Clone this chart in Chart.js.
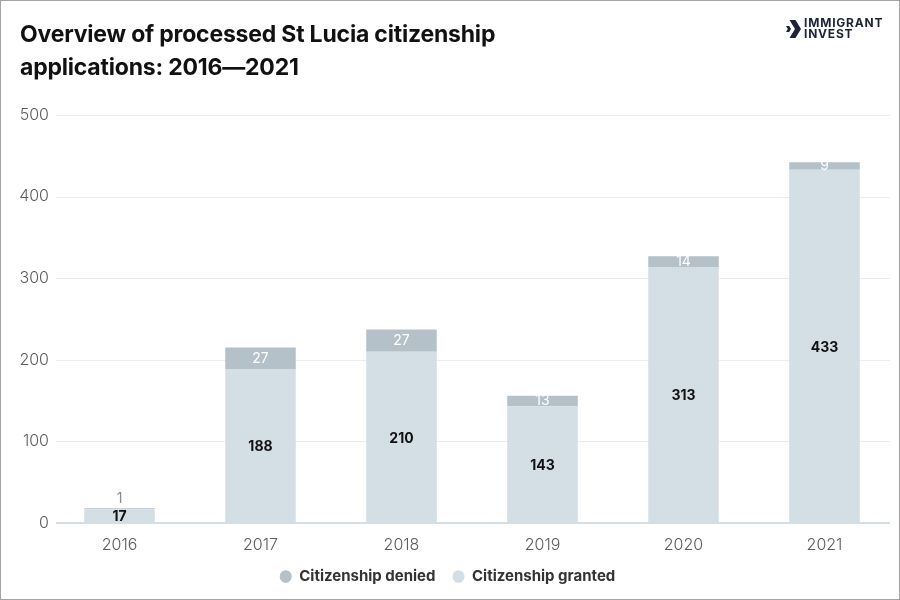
<!DOCTYPE html>
<html>
<head>
<meta charset="utf-8">
<script src="https://cdn.jsdelivr.net/npm/chart.js@4.4.1/dist/chart.umd.min.js"></script>
<style>
  html, body { margin: 0; padding: 0; background: #fff; }
  #wrap { position: relative; width: 900px; height: 600px; }
  #frame { position: absolute; left: 0; top: 0; width: 900px; height: 600px; box-sizing: border-box; border: 1px solid #a3a3a3; pointer-events: none; }
  #title { position: absolute; left: 20px; top: 18px; font: 700 23px Inter, sans-serif; line-height: 33px; color: #111; letter-spacing: -0.2px; }
  #logo { position: absolute; left: 786px; top: 18px; height: 22px; }
  #logo svg { position: absolute; left: 0; top: 2px; }
  #logo .txt { position: absolute; left: 18px; top: 0; font: 700 12px Inter, sans-serif; line-height: 10.5px; color: #1c2238; letter-spacing: 0.8px; white-space: nowrap; }
  canvas { position: absolute; left: 0; top: 0; }
</style>
</head>
<body>
<div id="wrap">
  <canvas id="stLucia" width="900" height="600"></canvas>
  <div id="title">Overview of processed St Lucia citizenship<br>applications: 2016—2021</div>
  <div id="logo">
    <svg width="15" height="18" viewBox="0 0 15 18">
      <polygon points="3.5,0 9.5,0 15,9 9.5,18 3.5,18 9,9" fill="#1c2238"/>
      <polygon points="0,6 3.2,6 5,9 3.2,12 0,12 1.8,9" fill="#1c2238"/>
    </svg>
    <div class="txt">IMMIGRANT<br>INVEST</div>
  </div>
  <div id="frame"></div>
</div>
<script>
//
// data
//
const years = ["2016", "2017", "2018", "2019", "2020", "2021"];
const grantedValues = [17, 188, 210, 143, 313, 433];
const deniedValues = [1, 27, 27, 13, 14, 9];
const yTicks = [0, 100, 200, 300, 400, 500];

const grantedColor = "#d3dee5";
const deniedColor = "#b5c1c8";

// light horizontal grid + bluish base line
const gridLines = {
  id: "gridLines",
  beforeDatasetsDraw(chart) {
    const ctx = chart.ctx;
    const y = chart.scales.y;
    ctx.save();
    yTicks.forEach(function (v) {
      const py = Math.round(y.getPixelForValue(v));
      ctx.beginPath();
      if (v === 0) {
        ctx.strokeStyle = "#d3dee5";
        ctx.lineWidth = 2;
        ctx.moveTo(56, py);
        ctx.lineTo(890, py);
      } else {
        ctx.strokeStyle = "#ececec";
        ctx.lineWidth = 1;
        ctx.moveTo(56, py + 0.5);
        ctx.lineTo(890, py + 0.5);
      }
      ctx.stroke();
    });
    ctx.restore();
  }
};

// value labels inside the segments
const barLabels = {
  id: "barLabels",
  afterDatasetsDraw(chart) {
    const ctx = chart.ctx;
    ctx.save();
    ctx.textAlign = "center";
    ctx.textBaseline = "middle";
    chart.data.datasets.forEach(function (ds, i) {
      const meta = chart.getDatasetMeta(i);
      meta.data.forEach(function (bar, j) {
        const val = ds.data[j];
        const mid = (bar.y + bar.base) / 2;
        if (i === 0) {
          ctx.font = "700 14px Inter, sans-serif";
          ctx.fillStyle = "#111";
          ctx.fillText(val, bar.x, mid + 1);
        } else if (Math.abs(bar.base - bar.y) < 3) {
          ctx.font = "400 14px Inter, sans-serif";
          ctx.fillStyle = "#8a8a8a";
          ctx.fillText(val, bar.x, bar.y - 10);
        } else {
          ctx.font = "400 14px Inter, sans-serif";
          ctx.fillStyle = "#ffffff";
          ctx.fillText(val, bar.x, mid);
        }
      });
    });
    ctx.restore();
  }
};

const stLuciaChart = new Chart("stLucia", {
  type: "bar",
  data: {
    labels: years,
    datasets: [{
        label: "Citizenship granted",
        backgroundColor: grantedColor,
        data: grantedValues
      },
      {
        label: "Citizenship denied",
        backgroundColor: deniedColor,
        data: deniedValues
      }]
  },
  options: {
    responsive: false,
    animation: false,
    layout: {
      padding: {top: 115, right: 5, bottom: 6, left: 0}
    },
    datasets: {
      bar: {categoryPercentage: 0.5, barPercentage: 1}
    },
    plugins: {
      legend: {
        position: "bottom",
        reverse: true,
        labels: {
          usePointStyle: true,
          pointStyle: "circle",
          pointStyleWidth: 12,
          boxWidth: 12,
          boxHeight: 9,
          padding: 17,
          color: "#333",
          font: {family: "Inter", size: 15, weight: "700"}
        }
      },
      tooltip: {enabled: false}
    },
    scales: {
      x: {
        stacked: true,
        grid: {display: false},
        border: {display: false},
        afterFit: function (scale) { scale.height = 29; },
        ticks: {
          padding: 5,
          color: "#5c5c5c",
          font: {family: "Inter", size: 16, weight: "300"}
        }
      },
      y: {
        stacked: true,
        min: 0,
        max: 500,
        grid: {display: false, drawTicks: false},
        border: {display: false},
        afterFit: function (scale) { scale.width = 49; },
        ticks: {
          stepSize: 100,
          padding: 0,
          color: "#5c5c5c",
          font: {family: "Inter", size: 16, weight: "300"}
        }
      }
    }
  },
  plugins: [gridLines, barLabels]
});
</script>
</body>
</html>
